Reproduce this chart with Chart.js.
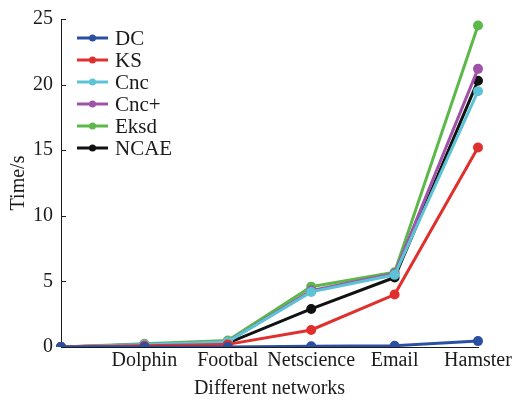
<!DOCTYPE html>
<html>
<head>
<meta charset="utf-8">
<script src="https://cdn.jsdelivr.net/npm/chart.js@4"></script>
<style>
  html, body { margin: 0; padding: 0; background: #fff; }
  #wrap { width: 512px; height: 401px; }
</style>
</head>
<body>
<div id="wrap"><canvas id="timeChart"></canvas></div>
<script>
const networks = ["", "Dolphin", "Footbal", "Netscience", "Email", "Hamster"];
const yTicks = [0, 5, 10, 15, 20, 25];

const dcTime = [0, 0, 0, 0.05, 0.1, 0.45];
const ksTime = [0, 0.1, 0.2, 1.3, 4.0, 15.2];
const cncTime = [0, 0.2, 0.4, 4.2, 5.5, 19.5];
const cncPlusTime = [0, 0.2, 0.4, 4.3, 5.6, 21.2];
const eksdTime = [0, 0.25, 0.5, 4.6, 5.7, 24.5];
const ncaeTime = [0, 0.15, 0.3, 2.9, 5.3, 20.3];

const font = "'Liberation Serif', 'DejaVu Serif', serif";
const textColor = "#1a1a1a";

function series(label, data, color) {
  return {
    label: label,
    data: data,
    borderColor: color,
    backgroundColor: color,
    borderWidth: 3,
    pointRadius: 3.5,
    pointHoverRadius: 3.5,
    tension: 0,
  };
}

// legend drawn inside the plot, top-left
const insideLegend = {
  id: "insideLegend",
  afterDatasetsDraw(chart) {
    const ctx = chart.ctx;
    const x0 = 77;
    let y = 38;
    ctx.save();
    ctx.font = "21px " + font;
    ctx.textBaseline = "middle";
    chart.data.datasets.forEach((ds) => {
      ctx.strokeStyle = ds.borderColor;
      ctx.fillStyle = ds.borderColor;
      ctx.lineWidth = 3;
      ctx.beginPath();
      ctx.moveTo(x0, y);
      ctx.lineTo(x0 + 31, y);
      ctx.stroke();
      ctx.beginPath();
      ctx.arc(x0 + 15.5, y, 3.5, 0, Math.PI * 2);
      ctx.fill();
      ctx.fillStyle = textColor;
      ctx.fillText(ds.label, x0 + 38, y + 1);
      y += 22;
    });
    ctx.restore();
  },
};

// short inward tick marks on the y axis
const innerTicks = {
  id: "innerTicks",
  afterDraw(chart) {
    const ctx = chart.ctx;
    const yScale = chart.scales.y;
    const left = chart.chartArea.left;
    ctx.save();
    ctx.strokeStyle = textColor;
    ctx.lineWidth = 1;
    yTicks.forEach((v) => {
      const py = Math.round(yScale.getPixelForValue(v)) + 0.5;
      ctx.beginPath();
      ctx.moveTo(left, py);
      ctx.lineTo(left + 5, py);
      ctx.stroke();
    });
    ctx.restore();
  },
};

new Chart(document.getElementById("timeChart"), {
  type: "line",
  data: {
    labels: networks,
    datasets: [
      series("DC", dcTime, "#2a4fa3"),
      series("KS", ksTime, "#e0302e"),
      series("Cnc", cncTime, "#5cc3d6"),
      series("Cnc+", cncPlusTime, "#a052a8"),
      series("Eksd", eksdTime, "#5cb848"),
      series("NCAE", ncaeTime, "#111111"),
    ],
  },
  options: {
    responsive: true,
    maintainAspectRatio: false,
    animation: false,
    layout: { padding: { top: 0, left: 4, right: 0, bottom: 0 } },
    plugins: {
      legend: { display: false },
      tooltip: { enabled: false },
    },
    scales: {
      x: {
        offset: false,
        grid: { display: false, drawTicks: false },
        border: { display: true, color: textColor, width: 1 },
        afterFit: (axis) => {
          axis.height = 54;
          axis.paddingRight = 34;
        },
        ticks: {
          color: textColor,
          font: { family: font, size: 20 },
          maxRotation: 0,
          autoSkip: false,
          padding: 2,
        },
        title: {
          display: true,
          text: "Different networks",
          color: textColor,
          font: { family: font, size: 20 },
          padding: { top: 0, bottom: 0 },
        },
      },
      y: {
        min: 0,
        max: 25,
        afterBuildTicks: (axis) => {
          axis.ticks = yTicks.map((v) => ({ value: v }));
        },
        afterFit: (axis) => {
          axis.width = 57;
          axis.paddingTop = 19;
        },
        grid: { display: false, drawTicks: false },
        border: { display: true, color: textColor, width: 1 },
        ticks: {
          color: textColor,
          font: { family: font, size: 20 },
          padding: 8,
        },
        title: {
          display: true,
          text: "Time/s",
          color: textColor,
          font: { family: font, size: 20 },
          padding: { top: 3, bottom: 0 },
        },
      },
    },
  },
  plugins: [insideLegend, innerTicks],
});
</script>
</body>
</html>
